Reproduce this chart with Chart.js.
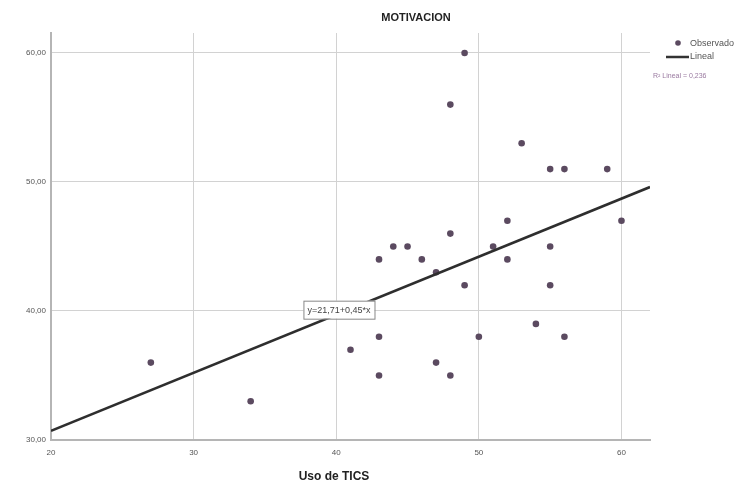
<!DOCTYPE html>
<html>
<head>
<meta charset="utf-8">
<script src="https://cdn.jsdelivr.net/npm/chart.js@4/dist/chart.umd.min.js"></script>
<style>
  html, body { margin: 0; padding: 0; background: #fff; }
  #wrap { width: 755px; height: 491px; }
</style>
</head>
<body>
<div id="wrap"><canvas id="chart"></canvas></div>
<script>
let usoTics = [27, 34, 41, 43, 43, 43, 44, 45, 46, 47, 47, 48, 48, 48, 49, 49, 50, 51, 52, 52, 53, 54, 55, 55, 55, 56, 56, 59, 60];
let motivacion = [36, 33, 37, 44, 38, 35, 45, 45, 44, 43, 36, 46, 56, 35, 60, 42, 38, 45, 44, 47, 53, 39, 51, 45, 42, 51, 38, 51, 47];
let xTicks = [20, 30, 40, 50, 60];
let yTicks = [30, 40, 50, 60];

// Fitted line y = 21,71 + 0,45x
let intercept = 21.71;
let slope = 0.45;
let fitRange = [20, 62];

let observed = usoTics.map((x, i) => ({ x: x, y: motivacion[i] }));
let fitted = fitRange.map(x => ({ x: x, y: intercept + slope * x }));

let fontFamily = "'Liberation Sans', Arial, sans-serif";

// Draws the title, the x axis title, the legend and the equation box
let extras = {
    id: "extras",
    afterDatasetsDraw(chart) {
        let ctx = chart.ctx;
        let xs = chart.scales.x;
        let ys = chart.scales.y;
        ctx.save();

        // equation label over the line
        let label = "y=21,71+0,45*x";
        ctx.font = "9px " + fontFamily;
        let bx = xs.getPixelForValue(37.7);
        let by = ys.getPixelForValue(40.8);
        let w = ctx.measureText(label).width + 8;
        ctx.fillStyle = "#fff";
        ctx.fillRect(bx, by, w, 18);
        ctx.strokeStyle = "#888";
        ctx.lineWidth = 1;
        ctx.strokeRect(bx + 0.5, by + 0.5, w, 18);
        ctx.fillStyle = "#444";
        ctx.textBaseline = "middle";
        ctx.textAlign = "left";
        ctx.fillText(label, bx + 4, by + 10);
        ctx.restore();
    },
    afterDraw(chart) {
        let ctx = chart.ctx;
        ctx.save();
        ctx.textBaseline = "middle";

        // chart title
        ctx.fillStyle = "#222";
        ctx.font = "bold 11px " + fontFamily;
        ctx.textAlign = "center";
        ctx.fillText("MOTIVACION", 416, 18);

        // x axis title
        ctx.font = "bold 12px " + fontFamily;
        ctx.fillText("Uso de TICS", 334, 477);

        // legend
        ctx.textAlign = "left";
        ctx.font = "9px " + fontFamily;
        ctx.fillStyle = "#5b4a60";
        ctx.beginPath();
        ctx.arc(678, 43, 2.8, 0, Math.PI * 2);
        ctx.fill();
        ctx.fillStyle = "#555";
        ctx.fillText("Observado", 690, 44);
        ctx.strokeStyle = "#333";
        ctx.lineWidth = 2.5;
        ctx.beginPath();
        ctx.moveTo(666, 57);
        ctx.lineTo(689, 57);
        ctx.stroke();
        ctx.fillText("Lineal", 690, 57);
        ctx.fillStyle = "#9a7aa0";
        ctx.font = "7px " + fontFamily;
        ctx.fillText("R\u00b2 Lineal = 0,236", 653, 76);
        ctx.restore();
    }
};

new Chart(document.getElementById("chart"),
{
    type: "scatter",
    data:
    {
        datasets: [
            {
                label: "Observado",
                data: observed,
                pointRadius: 3.3,
                pointHoverRadius: 3.3,
                pointBackgroundColor: "#5b4a60",
                pointBorderColor: "#5b4a60",
                pointBorderWidth: 0,
                order: 2
            },
            {
                type: "line",
                label: "Lineal",
                data: fitted,
                borderColor: "#2e2e2e",
                borderWidth: 2.5,
                pointRadius: 0,
                fill: false,
                order: 1
            }
        ]
    },
    options:
    {
        responsive: true,
        maintainAspectRatio: false,
        animation: false,
        layout: { padding: { top: 33, right: 105, left: 0, bottom: 0 } },
        plugins:
        {
            legend: { display: false },
            tooltip: { enabled: false },
            title: { display: false }
        },
        scales:
        {
            x:
            {
                type: "linear",
                min: 20,
                max: 62,
                afterBuildTicks: (axis) => { axis.ticks = xTicks.map(v => ({ value: v })); },
                afterFit: (axis) => { axis.height = 51; },
                grid: { color: "#d2d2d2", lineWidth: 1, drawTicks: false },
                border: { color: "#b5b5b5", width: 2 },
                ticks:
                {
                    padding: 8,
                    color: "#555",
                    font: { size: 8, family: fontFamily },
                    callback: (v) => String(v)
                }
            },
            y:
            {
                type: "linear",
                min: 30,
                max: 61.55,
                afterBuildTicks: (axis) => { axis.ticks = yTicks.map(v => ({ value: v })); },
                afterFit: (axis) => { axis.width = 51; },
                grid: { color: "#d2d2d2", lineWidth: 1, drawTicks: false },
                border: { color: "#b5b5b5", width: 2 },
                ticks:
                {
                    padding: 5,
                    color: "#555",
                    font: { size: 8, family: fontFamily },
                    callback: (v) => v.toFixed(2).replace(".", ",")
                }
            }
        }
    },
    plugins: [extras]
});
</script>
</body>
</html>
